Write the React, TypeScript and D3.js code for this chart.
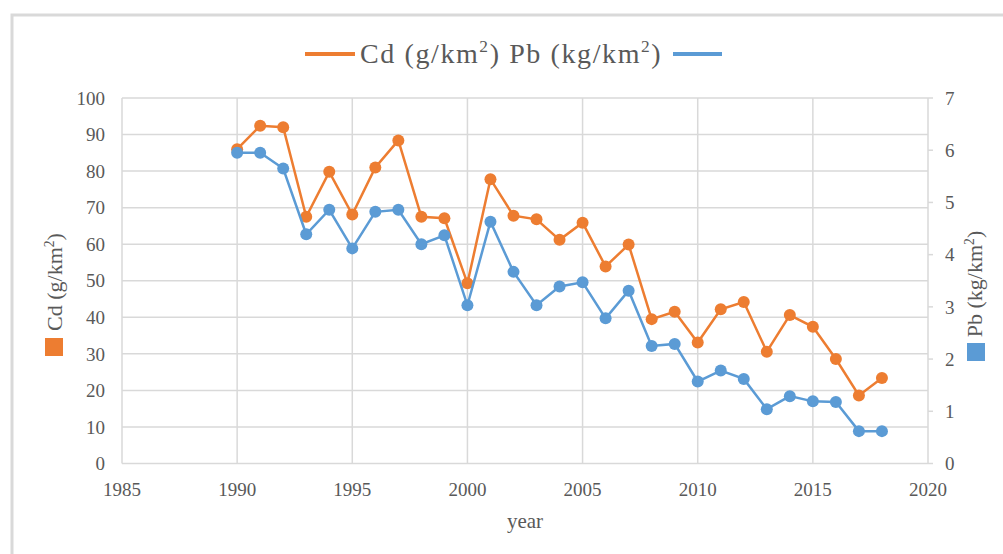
import React from 'react'
import * as d3 from 'd3'

const years = [1990, 1991, 1992, 1993, 1994, 1995, 1996, 1997, 1998, 1999, 2000, 2001, 2002, 2003, 2004,
  2005, 2006, 2007, 2008, 2009, 2010, 2011, 2012, 2013, 2014, 2015, 2016, 2017, 2018]
const cdValues = [86, 92.4, 92, 67.5, 79.8, 68.1, 81, 88.4, 67.5, 67.1, 49.3, 77.8, 67.8, 66.8, 61.2,
  65.9, 53.9, 59.9, 39.5, 41.5, 33.1, 42.2, 44.2, 30.6, 40.6, 37.4, 28.6, 18.6, 23.4]
const pbValues = [5.95, 5.95, 5.65, 4.39, 4.86, 4.12, 4.82, 4.86, 4.2, 4.37, 3.03, 4.63, 3.67, 3.03, 3.39,
  3.47, 2.78, 3.31, 2.25, 2.29, 1.57, 1.78, 1.62, 1.04, 1.29, 1.19, 1.18, 0.62, 0.62]
const xTicks = [1985, 1990, 1995, 2000, 2005, 2010, 2015, 2020]
const cdTicks = [0, 10, 20, 30, 40, 50, 60, 70, 80, 90, 100]
const pbTicks = [0, 1, 2, 3, 4, 5, 6, 7]

const ORANGE = '#ED7D31'
const BLUE = '#5B9BD5'
const GRID = '#d9d9d9'
const TXT = '#595959'
const FONT = '"Liberation Serif", "Times New Roman", serif'

// unit label with a raised "2", then the closing paren back on the baseline
const Unit = ({ pre, size }: { pre: string; size: number }) => {
  const up = size * 0.38
  return (
    <>
      {pre}
      <tspan dy={-up} fontSize={size * 0.62}>2</tspan>
      <tspan dy={up}>)</tspan>
    </>
  )
}

export default function App() {
  const left = 122, right = 928, top = 98, bottom = 463.5

  const x = d3.scaleLinear().domain([1985, 2020]).range([left, right])
  const yL = d3.scaleLinear().domain([0, 100]).range([bottom, top])
  const yR = d3.scaleLinear().domain([0, 7]).range([bottom, top])

  const cdLine = d3.line<number>().x((_, i) => x(years[i])).y(d => yL(d))
  const pbLine = d3.line<number>().x((_, i) => x(years[i])).y(d => yR(d))

  return (
    <svg width={1003} height={554} style={{ position: 'absolute', left: 0, top: 0, background: '#fff' }}
      fontFamily={FONT}>
      {/* outer frame */}
      <rect x={12} y={15} width={1100} height={700} fill="none" stroke={GRID} strokeWidth={3} />

      {/* legend */}
      <line x1={305} x2={355} y1={54} y2={54} stroke={ORANGE} strokeWidth={4} />
      <text x={360} y={63} fontSize={28} letterSpacing={1.6} fill={TXT}>
        <Unit pre="Cd (g/km" size={28} />
        <tspan> </tspan>
        <Unit pre="Pb (kg/km" size={28} />
      </text>
      <line x1={673} x2={722} y1={54} y2={54} stroke={BLUE} strokeWidth={4} />

      {/* grid */}
      {cdTicks.map(t => (
        <line key={'h' + t} x1={left} x2={right} y1={yL(t)} y2={yL(t)} stroke={GRID} strokeWidth={1.5} />
      ))}
      {xTicks.map(t => (
        <line key={'v' + t} x1={x(t)} x2={x(t)} y1={top} y2={bottom} stroke={GRID} strokeWidth={1.5} />
      ))}
      {pbTicks.map(t => (
        <line key={'rt' + t} x1={right} x2={right + 5} y1={yR(t)} y2={yR(t)} stroke={GRID} strokeWidth={1.5} />
      ))}

      {/* left ticks */}
      {cdTicks.map(t => (
        <text key={'lt' + t} x={105} y={yL(t)} dy="0.35em" textAnchor="end" fontSize={19} fill={TXT}>{t}</text>
      ))}
      {/* right ticks */}
      {pbTicks.map(t => (
        <text key={'rl' + t} x={945} y={yR(t)} dy="0.35em" textAnchor="start" fontSize={19} fill={TXT}>{t}</text>
      ))}
      {/* bottom ticks */}
      {xTicks.map(t => (
        <text key={'bl' + t} x={x(t)} y={496} textAnchor="middle" fontSize={19} fill={TXT}>{t}</text>
      ))}
      <text x={525} y={528} textAnchor="middle" fontSize={21} fill={TXT}>year</text>

      {/* axis titles */}
      <text transform="translate(62,282) rotate(-90)" textAnchor="middle" fontSize={22} fill={TXT}>
        <Unit pre="Cd (g/km" size={22} />
      </text>
      <rect x={45} y={338} width={18} height={18} fill={ORANGE} />
      <text transform="translate(982,284) rotate(-90)" textAnchor="middle" fontSize={22} fill={TXT}>
        <Unit pre="Pb (kg/km" size={22} />
      </text>
      <rect x={967} y={343} width={18} height={18} fill={BLUE} />

      {/* series */}
      <path d={cdLine(cdValues) || ''} fill="none" stroke={ORANGE} strokeWidth={2.5} />
      {cdValues.map((v, i) => (
        <circle key={'c' + i} cx={x(years[i])} cy={yL(v)} r={6} fill={ORANGE} />
      ))}
      <path d={pbLine(pbValues) || ''} fill="none" stroke={BLUE} strokeWidth={2.5} />
      {pbValues.map((v, i) => (
        <circle key={'p' + i} cx={x(years[i])} cy={yR(v)} r={6} fill={BLUE} />
      ))}
    </svg>
  )
}
